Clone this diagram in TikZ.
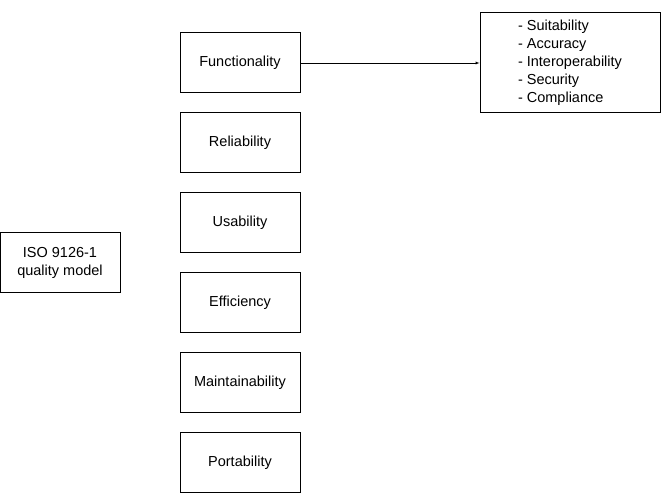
\documentclass[tikz,border=0pt]{standalone}
\usepackage{fontspec}
\setmainfont{Liberation Sans}
\usetikzlibrary{positioning,arrows}

\begin{document}
\begin{tikzpicture}[node distance=19pt,
    every node/.style={font=\fontsize{14.5}{18}\selectfont},
    attr/.style={draw, line width=1pt, minimum width=120pt, minimum height=60pt, inner sep=0pt}]

    \useasboundingbox (0,0) rectangle (662pt,-494pt);

    \node[attr] (func) at (240pt,-63pt) {Functionality};
    \node[attr] (rel) [below=of func] {Reliability};
    \node[attr] (use) [below=of rel] {Usability};
    \node[attr] (eff) [below=of use] {Efficiency};
    \node[attr] (maint) [below=of eff] {Maintainability};
    \node[attr] (port) [below=of maint] {Portability};

    \node[attr, align=center] (iso) at (60pt,-263pt) {ISO 9126-1\\quality model};

    \node[attr, minimum width=180pt, minimum height=100pt, align=left] (sub) [right=179pt of func]
        {- Suitability\\- Accuracy\\- Interoperability\\- Security\\- Compliance};

    \path[-latex] (func) edge (sub);

\end{tikzpicture}
\end{document}
